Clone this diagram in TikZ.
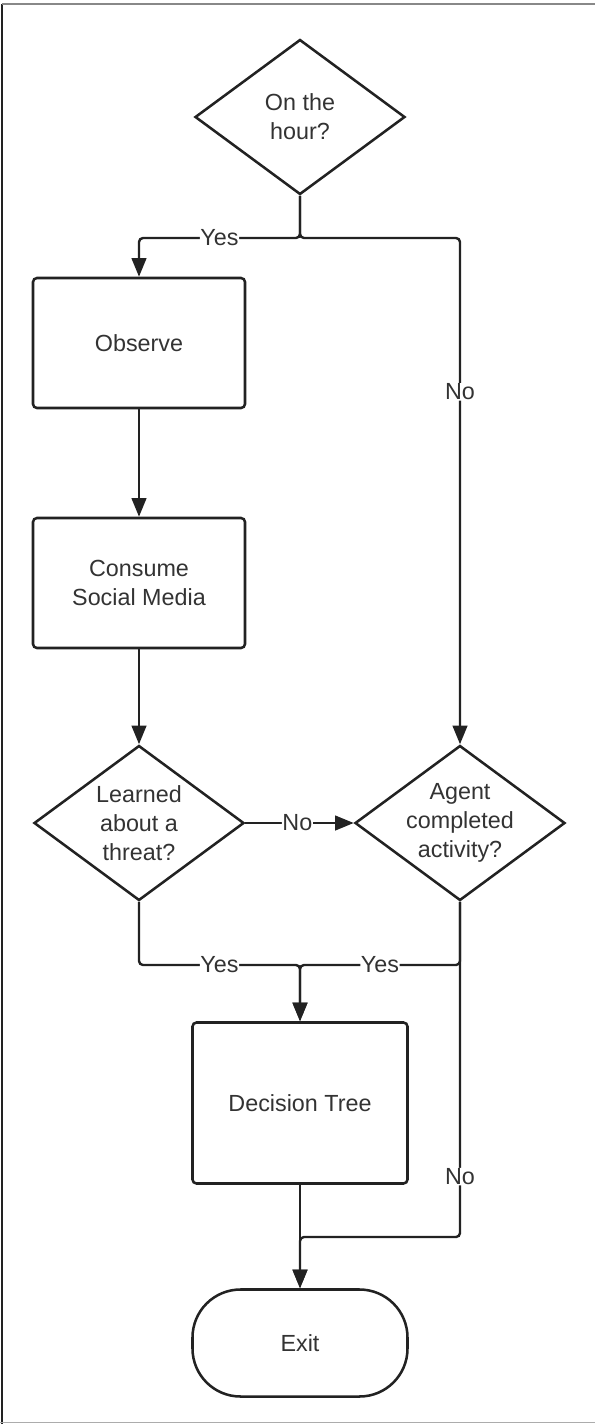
\documentclass[tikz,border=0pt]{standalone}
\usepackage{fontspec}
\setmainfont{Liberation Sans}
\usetikzlibrary{shapes.geometric,arrows.meta}
\definecolor{ink}{HTML}{222222}
\definecolor{txt}{HTML}{333333}
\definecolor{frame}{HTML}{888888}
\begin{document}
\begin{tikzpicture}[x=0.75pt,y=-0.75pt,
  every node/.style={font=\fontsize{17.5}{21.8}\selectfont, text=txt},
  base/.style={draw=ink, line width=1.9pt, fill=white, inner sep=0pt},
  process/.style={base, rectangle, rounded corners=3pt, minimum width=159pt, minimum height=97.5pt, align=center},
  decision/.style={base, diamond, minimum width=157.5pt, minimum height=116.25pt},
  inside/.style={align=center, text=txt},
  terminal/.style={base, rectangle, rounded corners=36pt, minimum width=161.25pt, minimum height=80.25pt},
  flow/.style={draw=ink, line width=1.8pt, rounded corners=3pt, -{Triangle[length=14pt,width=11pt]}},
  lbl/.style={fill=white, inner sep=0.5pt}
]
\useasboundingbox (0,0) rectangle (595,1424);
% page frame
\draw[ink, line width=1.5pt] (2,4) -- (2,1424);
\draw[frame, line width=1.5pt] (2,4) -- (595,4);
\draw[frame!70, line width=1.2pt] (0,1422.5) -- (595,1422.5);

% shapes
\node[decision, label={[inside]center:On the\\hour?}] (hour) at (300,117) {};
\node[process] (obs) at (139,343) {Observe};
\node[process] (cons) at (139,583) {Consume\\Social Media};
\node[decision, label={[inside]center:Learned\\about a\\threat?}] (threat) at (139,823) {};
\node[decision, label={[inside]center:Agent\\completed\\activity?}] (agent) at (460,823) {};
\node[process, minimum width=161.25pt, minimum height=120.75pt] (tree) at (300,1103) {Decision Tree};
\node[terminal] (exit) at (300,1343) {Exit};

% junction points
\coordinate (split) at (300,238);
\coordinate (lbend) at (139,965);
\coordinate (rbend) at (460,965);
\coordinate (rlow) at (460,1237);

% connectors
\draw[flow] (hour.south) -- (split) -| node[lbl, pos=0.25]{Yes} (obs.north);
\draw[flow] (hour.south) -- (split) -| node[lbl, pos=0.652]{No} (agent.north);
\draw[flow] (obs.south) -- (cons.north);
\draw[flow] (cons.south) -- (threat.north);
\draw[flow] (threat.east) -- node[lbl, pos=0.48]{No} (agent.west);
\draw[flow] (threat.south) -- (lbend) -| node[lbl, pos=0.25]{Yes} (tree.north);
\draw[flow] (agent.south) -- (rbend) -| node[lbl, pos=0.25]{Yes} (tree.north);
\draw[flow] (tree.south) -- (exit.north);
\draw[flow] (agent.south) -- node[lbl, pos=0.82]{No} (rlow) -| (exit.north);
\end{tikzpicture}
\end{document}
